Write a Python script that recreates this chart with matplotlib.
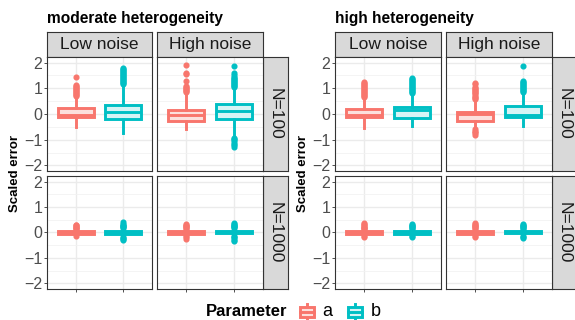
import matplotlib
matplotlib.use("Agg")
import matplotlib.pyplot as plt
from matplotlib.patches import Rectangle

plt.rcParams["font.family"] = ["Liberation Sans", "DejaVu Sans"]

# layout in pixels
W, H = 575, 320

groups = ["moderate heterogeneity", "high heterogeneity"]
noise_levels = ["Low noise", "High noise"]
sample_sizes = ["N=100", "N=1000"]
params = ["a", "b"]
colors = {"a": "#F8766D", "b": "#00BFC4"}
fills = {"a": "#FCE0DD", "b": "#D6F4F5"}

# box statistics, ordered group -> sample size -> noise -> parameter
q1 = [-0.12, -0.20, -0.26, -0.20,
      -0.04, -0.05, -0.05, -0.03,
      -0.12, -0.17, -0.26, -0.10,
      -0.04, -0.04, -0.05, -0.03]
med = [-0.05, 0.06, -0.03, 0.12,
       0.00, 0.01, -0.01, 0.02,
       -0.05, 0.17, 0.01, -0.03,
       0.00, 0.01, 0.00, 0.02]
q3 = [0.24, 0.36, 0.17, 0.40,
      0.04, 0.05, 0.04, 0.06,
      0.20, 0.26, 0.09, 0.31,
      0.04, 0.04, 0.04, 0.05]
whis_lo = [-0.52, -0.73, -0.60, -0.82,
           -0.10, -0.13, -0.12, -0.10,
           -0.55, -0.45, -0.55, -0.45,
           -0.10, -0.10, -0.12, -0.10]
whis_hi = [0.65, 1.10, 0.80, 1.00,
           0.10, 0.15, 0.12, 0.15,
           0.60, 0.75, 0.55, 0.75,
           0.10, 0.12, 0.12, 0.12]
outliers = [
    [0.70, 0.74, 0.78, 0.82, 0.86, 0.90, 0.94, 0.98, 1.02, 1.06, 1.10, 1.14, 1.45],
    [1.15, 1.19, 1.23, 1.27, 1.31, 1.35, 1.39, 1.43, 1.47, 1.51, 1.55, 1.59, 1.63, 1.67, 1.71, 1.75, 1.80],
    [0.85, 0.89, 0.93, 0.97, 1.01, 1.05, 1.10, 1.30, 1.55, 1.60, 1.90],
    [1.05, 1.09, 1.13, 1.17, 1.21, 1.25, 1.29, 1.33, 1.37, 1.41, 1.45, 1.50, 1.60, 1.88,
     -0.95, -0.99, -1.03, -1.10, -1.17, -1.22, -1.28],
    [0.13, 0.16, 0.19, 0.22, 0.25, 0.28, 0.31, -0.12],
    [0.18, 0.21, 0.24, 0.27, 0.30, 0.34, 0.40, -0.16, -0.20, -0.25, -0.30],
    [0.15, 0.18, 0.21, 0.24, 0.27, 0.30, 0.33, -0.15, -0.19, -0.24],
    [0.18, 0.21, 0.24, 0.27, 0.30, 0.34, 0.38, -0.14, -0.18, -0.23, -0.28, -0.32],
    [0.65, 0.69, 0.73, 0.77, 0.81, 0.85, 0.89, 0.93, 0.97, 1.01, 1.05, 1.09, 1.13, 1.17, 1.21, 1.25],
    [0.80, 0.84, 0.88, 0.92, 0.96, 1.00, 1.04, 1.08, 1.12, 1.16, 1.20, 1.24, 1.28, 1.32, 1.36, 1.40],
    [0.60, 0.64, 0.68, 0.72, 0.76, 0.80, 0.84, 0.88, 0.92, 0.96, 1.00, 1.05, 1.15, 1.20,
     -0.60, -0.65, -0.70, -0.75, -0.82],
    [0.85, 0.89, 0.93, 0.97, 1.01, 1.05, 1.09, 1.13, 1.17, 1.21, 1.25, 1.30, 1.88],
    [0.13, 0.16, 0.19, 0.22, 0.25, 0.28, 0.32, 0.36, -0.12, -0.16],
    [0.15, 0.18, 0.21, 0.24, 0.27, 0.30, 0.33, -0.13, -0.17],
    [0.15, 0.18, 0.21, 0.24, 0.27, 0.30, 0.34, 0.38, -0.15, -0.18],
    [0.15, 0.18, 0.21, 0.24, 0.27, 0.30, 0.35, -0.13, -0.17, -0.20],
]

fig = plt.figure(figsize=(W / 100, H / 100), dpi=100)
fig.patch.set_facecolor("white")

LW = 2.1


def px_axes(x0, y0, x1, y1):
    return fig.add_axes([x0 / W, 1 - y1 / H, (x1 - x0) / W, (y1 - y0) / H])


def strip(x0, y0, x1, y1, label, rotation=0):
    s = px_axes(x0, y0, x1, y1)
    s.set_facecolor("#D9D9D9")
    s.set_xticks([])
    s.set_yticks([])
    for sp in s.spines.values():
        sp.set_color("#333333")
        sp.set_linewidth(0.8)
    s.text(0.5, 0.5, label, transform=s.transAxes, ha="center", va="center",
           fontsize=12.5, color="#1A1A1A", rotation=rotation)


# panel column / row edges in pixels for each group
col_x = [[(47, 152), (157, 263)], [(335, 441), (446, 552)]]
row_strip_x = [(263, 288), (552, 577)]
row_y = [(57, 171), (176, 289)]
title_x = [47, 335]
ylab_x = [15, 303]

k = 0
for g, group in enumerate(groups):
    fig.text(title_x[g] / W, 1 - 23 / H, group, fontsize=11.2, fontweight="bold",
             ha="left", va="baseline")
    fig.text(ylab_x[g] / W, 1 - 174 / H, "Scaled error", fontsize=9.5,
             fontweight="bold", rotation=90, ha="center", va="center")
    for c, nz in enumerate(noise_levels):
        strip(col_x[g][c][0], 32, col_x[g][c][1], 57, nz)
    for r, n in enumerate(sample_sizes):
        strip(row_strip_x[g][0], row_y[r][0], row_strip_x[g][1], row_y[r][1], n,
              rotation=-90)
        for c, nz in enumerate(noise_levels):
            ax = px_axes(col_x[g][c][0], row_y[r][0], col_x[g][c][1], row_y[r][1])
            for p, par in enumerate(params):
                st = dict(q1=q1[k], med=med[k], q3=q3[k], whislo=whis_lo[k],
                          whishi=whis_hi[k], fliers=outliers[k])
                col = colors[par]
                ax.bxp([st], positions=[p + 1], widths=0.75, patch_artist=True,
                       showcaps=False,
                       boxprops=dict(facecolor=fills[par], edgecolor=col, linewidth=LW),
                       medianprops=dict(color=col, linewidth=LW),
                       whiskerprops=dict(color=col, linewidth=LW),
                       flierprops=dict(marker="o", markersize=3.4, markerfacecolor=col,
                                       markeredgecolor=col))
                k += 1
            ax.set_xlim(0.4, 2.6)
            ax.set_ylim(-2.22, 2.22)
            ax.set_yticks([-2, -1, 0, 1, 2])
            ax.set_yticks([-1.5, -0.5, 0.5, 1.5], minor=True)
            ax.set_xticks([1, 2])
            ax.set_xticklabels([])
            ax.grid(True, which="major", color="#EBEBEB", linewidth=1.0)
            ax.grid(True, which="minor", axis="y", color="#F2F2F2", linewidth=0.6)
            ax.set_axisbelow(True)
            ax.tick_params(axis="both", which="minor", length=0)
            ax.tick_params(axis="both", length=2.5, width=0.6, color="#333333",
                           labelsize=11.5, labelcolor="#4D4D4D", pad=1)
            if c != 0:
                ax.tick_params(axis="y", left=False, labelleft=False)
            if r == 0:
                ax.tick_params(axis="x", bottom=False)
            for sp in ax.spines.values():
                sp.set_color("#333333")
                sp.set_linewidth(0.8)

# legend at the bottom
fig.text(206 / W, 1 - 312 / H, "Parameter", fontsize=12, fontweight="bold",
         ha="left", va="center")
ov = fig.add_axes([0, 0, 1, 1])
ov.set_xlim(0, W)
ov.set_ylim(H, 0)
ov.axis("off")
key_x = [300, 348]
label_x = [322, 371]
for i, par in enumerate(params):
    cx = key_x[i] + 7
    ov.plot([cx, cx], [304, 320], color=colors[par], linewidth=LW, zorder=2)
    ov.add_patch(Rectangle((key_x[i], 307), 14, 10, facecolor=fills[par],
                           edgecolor=colors[par], linewidth=LW, zorder=3))
    ov.plot([key_x[i], key_x[i] + 14], [312, 312], color=colors[par], linewidth=LW,
            zorder=4)
    fig.text(label_x[i] / W, 1 - 312 / H, par, fontsize=13, ha="left", va="center")

fig.savefig("out.png", dpi=100)
